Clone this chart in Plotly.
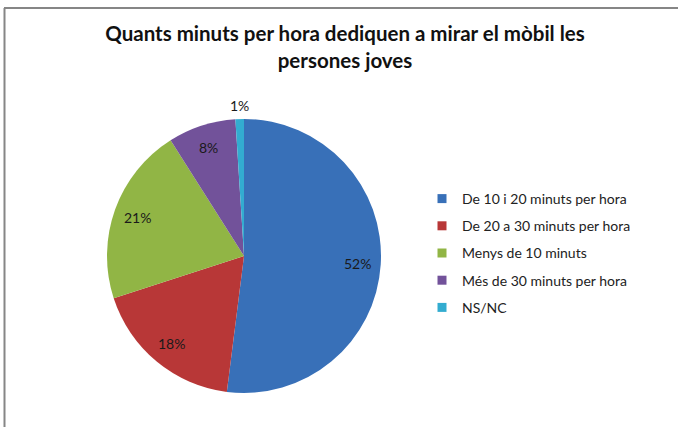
import math
import plotly.graph_objects as go

categories = ["De 10 i 20 minuts per hora", "De 20 a 30 minuts per hora",
              "Menys de 10 minuts", "Més de 30 minuts per hora", "NS/NC"]
values = [52, 18, 21, 8, 1]
colors = ["#3870B8", "#B83737", "#91B545", "#72529A", "#33ACD0"]
title_text = "Quants minuts per hora dediquen a mirar el mòbil les<br>persones joves"

W, H = 678, 427
cx, cy, r = 244, 256, 137

fig = go.Figure()
fig.add_trace(go.Pie(
    labels=categories, values=values, sort=False, direction="clockwise", rotation=0,
    marker=dict(colors=colors, line=dict(width=0)),
    textinfo="none", showlegend=False, hoverinfo="label+percent",
    domain=dict(x=[(cx - r) / W, (cx + r) / W], y=[(H - cy - r) / H, (H - cy + r) / H]),
))

# data labels placed along each slice's mid-angle (Excel style)
total = sum(values)
annotations = []
cum = 0
for v in values:
    theta = 2 * math.pi * (cum + v / 2) / total
    k = 0.83 if v / total > 0.03 else 1.1
    px = cx + k * r * math.sin(theta)
    py = cy - k * r * math.cos(theta)
    annotations.append(dict(
        x=px / W, y=1 - py / H, xref="paper", yref="paper", showarrow=False,
        text=f"{round(100 * v / total)}%", xanchor="center", yanchor="middle",
        font=dict(family="Lato", size=14, color="#1a1a1a"),
    ))
    cum += v

for i, (cat, col) in enumerate(zip(categories, colors)):
    fig.add_trace(go.Scatter(
        x=[None], y=[None], mode="markers", name=cat, legendgroup=f"g{i}",
        marker=dict(symbol="square", size=9, color=col),
    ))

fig.update_layout(
    width=W, height=H, margin=dict(l=0, r=0, t=0, b=0),
    paper_bgcolor="white", plot_bgcolor="white",
    title=dict(text=title_text, x=345 / W, xanchor="center", y=1 - 41 / H, yanchor="top",
               font=dict(family="Lato", size=20.5, color="#111111", weight="bold")),
    xaxis=dict(visible=False), yaxis=dict(visible=False),
    legend=dict(x=422 / W, xanchor="left", y=1 - 183 / H, yanchor="top",
                font=dict(family="Lato", size=14, color="#222222"),
                tracegroupgap=6, bgcolor="rgba(0,0,0,0)"),
    annotations=annotations,
    shapes=[
        dict(type="line", xref="paper", yref="paper", x0=4 / W, x1=1, y0=1 - 8 / H, y1=1 - 8 / H,
             line=dict(color="#868686", width=2)),
        dict(type="line", xref="paper", yref="paper", x0=4.5 / W, x1=4.5 / W, y0=0, y1=1 - 8 / H,
             line=dict(color="#868686", width=2)),
    ],
)

fig.write_html("out.html", config={"displayModeBar": False},
               post_script="document.body.style.margin='0';")
